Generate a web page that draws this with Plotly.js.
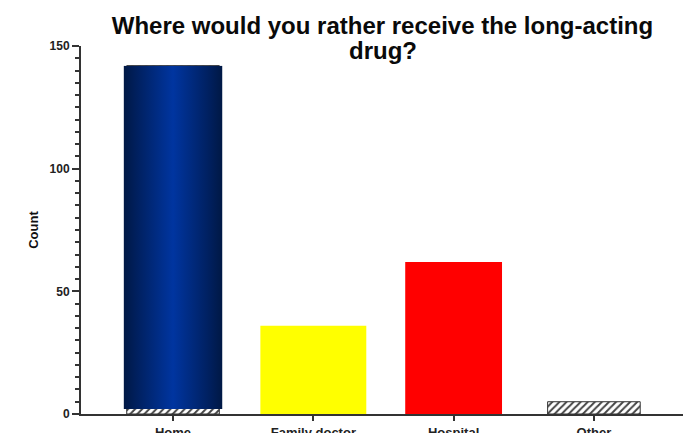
<!DOCTYPE html>
<html>
<head>
<meta charset="utf-8">
<script src="https://cdn.plot.ly/plotly-3.0.1.min.js"></script>
<style>
html,body{margin:0;padding:0;background:#fff;}
#chart{width:683px;height:433px;}
</style>
</head>
<body>
<div id="chart"></div>
<script>
// Data
const categories = ["Home", "Family doctor", "Hospital", "Other"];
const counts = [142, 36, 62, 5];
const barColors = ["#ffffff", "#ffff00", "#ff0000", "#ffffff"];
const hatched = [true, false, false, true];
const yTicks = [0, 50, 100, 150];
const titleLines = ["Where would you rather receive the long-acting", "drug?"];
const yTitle = "Count";
// visible hatched strip under the Home gradient image (in count units)
const homeHatchStrip = 2;

const idx = categories.map((c, i) => i);
const barWidths = [0.66, 0.755, 0.69, 0.66];

function pick(arr, keep) { return arr.filter((v, i) => keep[i]); }
const isHatch = hatched;
const isSolid = hatched.map(h => !h);

const gradSvg = '<svg xmlns="http://www.w3.org/2000/svg" width="100" height="100" preserveAspectRatio="none">' +
  '<defs><linearGradient id="g" x1="0" y1="0" x2="1" y2="0">' +
  '<stop offset="0" stop-color="#001844"/>' +
  '<stop offset="0.12" stop-color="#001f5c"/>' +
  '<stop offset="0.5" stop-color="#0035a0"/>' +
  '<stop offset="0.88" stop-color="#001f5c"/>' +
  '<stop offset="1" stop-color="#001844"/>' +
  '</linearGradient></defs><rect width="100" height="100" fill="url(#g)"/></svg>';
const gradUri = 'data:image/svg+xml;base64,' + btoa(gradSvg);

const hatchTrace = {
  type: 'bar',
  x: pick(idx, isHatch),
  y: pick(counts, isHatch),
  width: pick(barWidths, isHatch),
  marker: {
    color: '#ffffff',
    line: {color: '#333333', width: 1},
    pattern: {shape: '/', fgcolor: '#444444', bgcolor: '#ffffff', size: 5, solidity: 0.4}
  }
};
const solidTrace = {
  type: 'bar',
  x: pick(idx, isSolid),
  y: pick(counts, isSolid),
  width: pick(barWidths, isSolid),
  marker: {color: pick(barColors, isSolid), line: {width: 0}}
};

const titleFont = {family: 'Liberation Sans, Arial, sans-serif', size: 24, weight: 'bold', color: '#0a0a0a'};

const layout = {
  width: 683,
  height: 433,
  margin: {l: 81, r: 0, t: 46, b: 19, pad: 0},
  barmode: 'overlay',
  paper_bgcolor: '#ffffff',
  plot_bgcolor: '#ffffff',
  showlegend: false,
  font: {family: 'Liberation Sans, Arial, sans-serif', color: '#111111'},
  title: {
    text: titleLines[0],
    font: titleFont,
    x: 0.56, xanchor: 'center',
    y: 0.942, yanchor: 'middle', yref: 'container'
  },
  annotations: [{
    text: titleLines[1],
    font: titleFont,
    xref: 'paper', yref: 'paper',
    x: 0.502, y: 0.9866,
    xanchor: 'center', yanchor: 'middle',
    showarrow: false
  }],
  xaxis: {
    range: [-0.656, 3.635],
    tickvals: idx,
    ticktext: categories,
    showgrid: false,
    zeroline: false,
    showline: true,
    linecolor: '#333333',
    linewidth: 2,
    ticks: 'outside',
    ticklen: 5,
    tickwidth: 2,
    tickcolor: '#333333',
    tickfont: {size: 13, weight: 'bold', color: '#222222'},
    layer: 'below traces',
    fixedrange: true
  },
  yaxis: {
    range: [0, 150],
    tickvals: yTicks,
    showgrid: false,
    zeroline: false,
    showline: true,
    linecolor: '#333333',
    linewidth: 2,
    ticks: 'outside',
    ticklen: 7,
    tickwidth: 2,
    tickcolor: '#333333',
    tickfont: {size: 12, weight: 'bold', color: '#222222'},
    minor: {dtick: 5, ticks: 'outside', ticklen: 4, tickwidth: 2, tickcolor: '#333333'},
    title: {text: yTitle, font: {size: 13, weight: 'bold', color: '#111111'}, standoff: 8},
    fixedrange: true
  },
  images: [{
    source: gradUri,
    xref: 'x', yref: 'y',
    x: idx[0], y: counts[0],
    xanchor: 'center', yanchor: 'top',
    sizex: 0.705, sizey: counts[0] - homeHatchStrip,
    sizing: 'stretch',
    layer: 'above'
  }]
};

Plotly.newPlot('chart', [hatchTrace, solidTrace], layout, {displayModeBar: false, staticPlot: true});
</script>
</body>
</html>
